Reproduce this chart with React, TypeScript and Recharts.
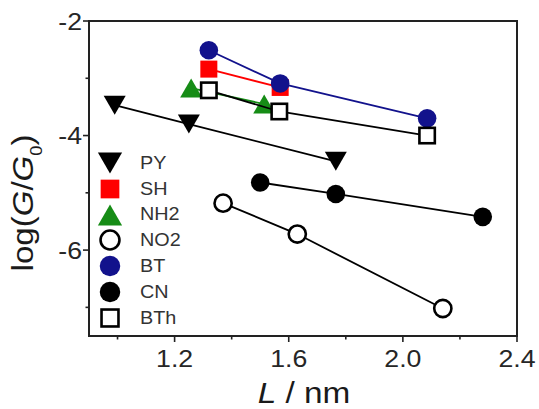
import React from "react";
import { Legend, ReferenceArea, Scatter, ScatterChart, XAxis, YAxis } from "recharts";

const FONT = '"Liberation Sans", Arial, Helvetica, sans-serif';
const INK = "#262626";

// axis ticks
const X_MAJOR = [1.2, 1.6, 2.0, 2.4];
const X_MINOR = [1.0, 1.4, 1.8, 2.2];
const Y_MAJOR = [-6, -4, -2];
const Y_MINOR = [-7, -5, -3];

// L (nm) / log(G/G0) per molecule
const PY_L = [0.99, 1.25, 1.765];
const PY_G = [-3.47, -3.8, -4.45];
const SH_L = [1.32, 1.57];
const SH_G = [-2.84, -3.16];
const NH2_L = [1.258, 1.514];
const NH2_G = [-3.17, -3.45];
const NO2_L = [1.37, 1.63, 2.14];
const NO2_G = [-5.18, -5.72, -7.02];
const BT_L = [1.32, 1.57, 2.085];
const BT_G = [-2.51, -3.09, -3.7];
const CN_L = [1.5, 1.765, 2.28];
const CN_G = [-4.82, -5.02, -5.42];
const BTH_L = [1.32, 1.567, 2.085];
const BTH_G = [-3.21, -3.58, -4.0];

type Kind = "down" | "square" | "up" | "ring" | "dot" | "box";

const SERIES: { name: string; xs: number[]; ys: number[]; color: string; kind: Kind }[] = [
  { name: "PY", xs: PY_L, ys: PY_G, color: "#000000", kind: "down" },
  { name: "SH", xs: SH_L, ys: SH_G, color: "#ff0000", kind: "square" },
  { name: "NH2", xs: NH2_L, ys: NH2_G, color: "#168c16", kind: "up" },
  { name: "NO2", xs: NO2_L, ys: NO2_G, color: "#000000", kind: "ring" },
  { name: "BT", xs: BT_L, ys: BT_G, color: "#12128c", kind: "dot" },
  { name: "CN", xs: CN_L, ys: CN_G, color: "#000000", kind: "dot" },
  { name: "BTh", xs: BTH_L, ys: BTH_G, color: "#000000", kind: "box" },
];

const near = (list: number[], v: number) => list.some((m) => Math.abs(m - v) < 1e-6);

function Marker({ kind, cx, cy, fill, k = 1 }: { kind: Kind; cx: number; cy: number; fill: string; k?: number }) {
  switch (kind) {
    case "down": {
      const w = 11 * k, h = 9.5 * k;
      return <polygon points={`${cx - w},${cy - h} ${cx + w},${cy - h} ${cx},${cy + h}`} fill={fill} />;
    }
    case "up": {
      const w = 11 * k, h = 9.5 * k;
      return <polygon points={`${cx - w},${cy + h} ${cx + w},${cy + h} ${cx},${cy - h}`} fill={fill} />;
    }
    case "square": {
      const s = 8.5 * k;
      return <rect x={cx - s} y={cy - s} width={2 * s} height={2 * s} fill={fill} />;
    }
    case "ring":
      return <circle cx={cx} cy={cy} r={8.6 * k} fill="#fff" stroke="#000" strokeWidth={2.6} />;
    case "dot":
      return <circle cx={cx} cy={cy} r={9.3 * k} fill={fill} />;
    case "box": {
      const s = 7.7 * k;
      return <rect x={cx - s} y={cy - s} width={2 * s} height={2 * s} fill="#fff" stroke="#000" strokeWidth={2.6} />;
    }
  }
  return null;
}

function SText(props: {
  x: number; y: number; size: number; anchor?: "start" | "middle" | "end";
  sx?: number; rotate?: number; fill?: string; children: React.ReactNode;
}) {
  const { x, y, size, anchor = "start", sx = 1, rotate = 0, fill = INK, children } = props;
  return (
    <text
      transform={`translate(${x},${y}) rotate(${rotate}) scale(${sx},1)`}
      fontSize={size}
      fontFamily={FONT}
      textAnchor={anchor}
      fill={fill}
    >
      {children}
    </text>
  );
}

function XTick(props: any) {
  const { x, y, payload } = props;
  const v = Number(payload.value);
  const major = near(X_MAJOR, v);
  return (
    <g>
      <line x1={x} x2={x} y1={y} y2={y + (major ? 6 : 3.5)} stroke="#222" strokeWidth={1.6} />
      {major && (
        <SText x={x} y={y + 31} size={23} anchor="middle" sx={1.16}>
          {v.toFixed(1)}
        </SText>
      )}
    </g>
  );
}

function YTick(props: any) {
  const { x, y, payload } = props;
  const v = Number(payload.value);
  const major = near(Y_MAJOR, v);
  return (
    <g>
      <line x1={x} x2={x - (major ? 6 : 3.5)} y1={y} y2={y} stroke="#222" strokeWidth={1.6} />
      {major && (
        <SText x={x - 7} y={y + 8.5} size={23} anchor="end" sx={1.16}>
          {String(v)}
        </SText>
      )}
    </g>
  );
}

const yTitle = () => (
  <text
    transform="translate(33,203) rotate(-90) scale(1.14,1)"
    fontSize={29}
    fontFamily={FONT}
    textAnchor="middle"
    fill="#1a1a1a"
  >
    log(<tspan fontStyle="italic">G</tspan>/<tspan fontStyle="italic">G</tspan>
    <tspan fontSize={16} dy={9}>0</tspan>
    <tspan dy={-9}>)</tspan>
  </text>
);

const xTitle = () => (
  <text
    transform="translate(304,403) scale(1.15,1)"
    fontSize={29}
    fontFamily={FONT}
    textAnchor="middle"
    fill="#1a1a1a"
  >
    <tspan fontStyle="italic">L</tspan> / nm
  </text>
);

const renderLegend = () => (
  <div style={{ fontFamily: FONT }}>
    {SERIES.map((s) => (
      <div key={s.name} style={{ display: "flex", alignItems: "center", height: 25.8 }}>
        <svg width={26} height={26} style={{ overflow: "visible", flexShrink: 0 }}>
          <Marker kind={s.kind} cx={13} cy={13} fill={s.color} k={1.1} />
        </svg>
        <span
          style={{
            marginLeft: 17,
            fontSize: 18,
            color: "#333",
            display: "inline-block",
            transform: "scaleX(1.1)",
            transformOrigin: "left center",
            lineHeight: 1,
          }}
        >
          {s.name}
        </span>
      </div>
    ))}
  </div>
);

export default function App() {
  return (
    <div style={{ position: "absolute", left: 0, top: 0, width: 539, height: 409, background: "#fff" }}>
      <ScatterChart width={539} height={409} margin={{ top: 21, right: 22, bottom: 0, left: 0 }}>
        <XAxis
          type="number"
          dataKey="x"
          domain={[0.9, 2.4]}
          ticks={[...X_MINOR, ...X_MAJOR].sort((a, b) => a - b)}
          interval={0}
          tick={<XTick />}
          tickLine={false}
          axisLine={false}
          tickSize={0}
          tickMargin={0}
          height={73}
          allowDataOverflow
          label={xTitle}
        />
        <YAxis
          type="number"
          dataKey="y"
          domain={[-7.5, -2]}
          ticks={[...Y_MINOR, ...Y_MAJOR].sort((a, b) => a - b)}
          interval={0}
          tick={<YTick />}
          tickLine={false}
          axisLine={false}
          tickSize={0}
          tickMargin={0}
          width={89}
          allowDataOverflow
          label={yTitle}
        />
        <ReferenceArea
          x1={0.9}
          x2={2.4}
          y1={-7.5}
          y2={-2}
          fill="none"
          stroke="#222"
          strokeWidth={2}
          ifOverflow="visible"
        />
        {SERIES.map((s) => (
          <Scatter
            key={s.name}
            name={s.name}
            data={s.xs.map((x, i) => ({ x, y: s.ys[i] }))}
            fill={s.color}
            line={{ stroke: s.color, strokeWidth: 1.8 }}
            lineType="joint"
            isAnimationActive={false}
            shape={(p: any) => <Marker kind={s.kind} cx={p.cx} cy={p.cy} fill={s.color} />}
          />
        ))}
        <Legend
          layout="vertical"
          align="center"
          verticalAlign="middle"
          wrapperStyle={{ left: 97, top: 150, width: 120 }}
          content={renderLegend}
        />
      </ScatterChart>
    </div>
  );
}
